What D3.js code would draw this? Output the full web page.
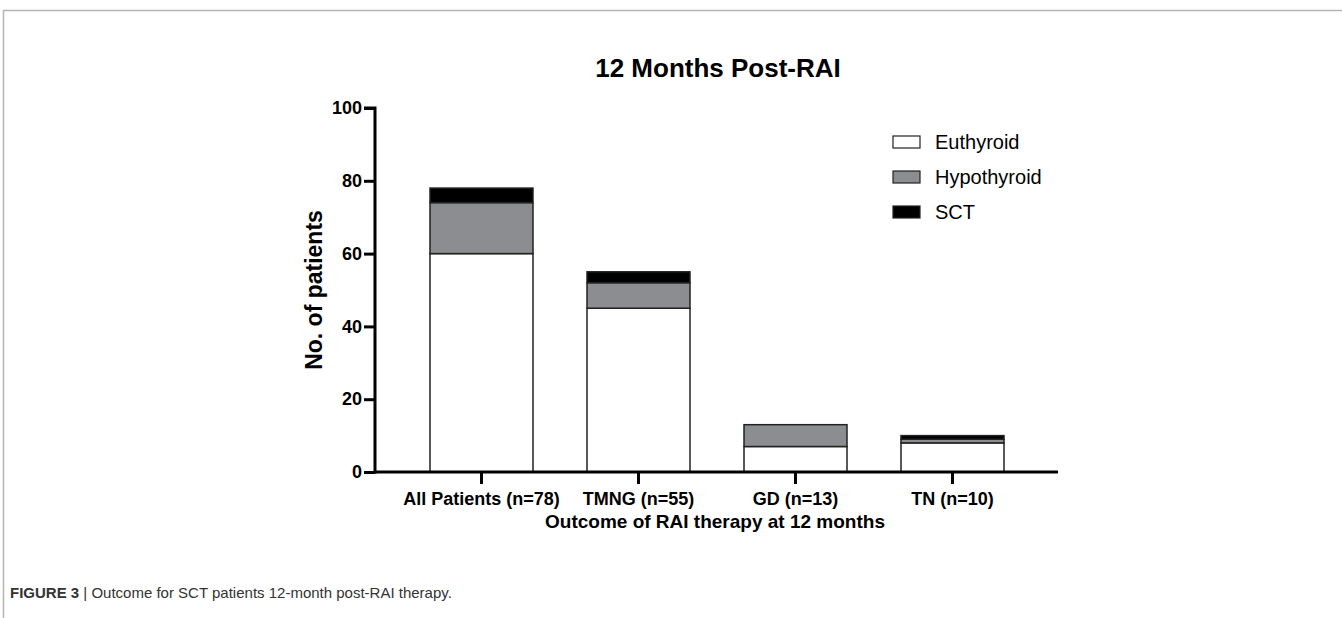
<!DOCTYPE html>
<html>
<head>
<meta charset="utf-8">
<script src="https://cdn.jsdelivr.net/npm/d3@7"></script>
<style>
  body { margin: 0; background: #fff; }
  svg { display: block; font-family: "Liberation Sans", Arial, sans-serif; }
</style>
</head>
<body>
<div id="chart"></div>
<script>
  var categories  = ['All Patients (n=78)', 'TMNG (n=55)', 'GD (n=13)', 'TN (n=10)'];
  var euthyroid   = [60, 45, 7, 8];
  var hypothyroid = [14, 7, 6, 1];
  var sct         = [4, 3, 0, 1];
  var seriesNames = ['Euthyroid', 'Hypothyroid', 'SCT'];
  var yTicks      = [0, 20, 40, 60, 80, 100];

  var width = 1342, height = 618;
  var colors = { Euthyroid: '#ffffff', Hypothyroid: '#8c8d90', SCT: '#000000' };

  var rows = categories.map(function(c, i){
    return { cat: c, Euthyroid: euthyroid[i], Hypothyroid: hypothyroid[i], SCT: sct[i] };
  });

  var svg = d3.select('#chart').append('svg')
              .attr('width', width)
              .attr('height', height);

  // page frame
  svg.append('path')
     .attr('d', 'M3.5,' + height + 'V10.5H' + width)
     .attr('fill', 'none')
     .attr('stroke', '#b5b5b5')
     .attr('stroke-width', 1.5);

  var x = d3.scaleBand()
            .domain(categories)
            .range([403, 1031])
            .paddingInner(0.344)
            .paddingOuter(0.172);

  var y = d3.scaleLinear()
            .domain([0, 100])
            .range([472, 108]);

  var stack = d3.stack().keys(seriesNames)(rows);

  svg.append('g').selectAll('g')
     .data(stack)
     .enter()
     .append('g')
     .attr('fill', d => colors[d.key])
     .selectAll('rect')
     .data(d => d.filter(p => p[1] > p[0]))
     .enter()
     .append('rect')
     .attr('x', d => x(d.data.cat))
     .attr('y', d => y(d[1]))
     .attr('width', x.bandwidth())
     .attr('height', d => y(d[0]) - y(d[1]))
     .attr('stroke', '#222')
     .attr('stroke-width', 1.5);

  // y axis
  var yAxis = svg.append('g')
                 .attr('transform', 'translate(375,0)')
                 .call(d3.axisLeft(y).tickValues(yTicks).tickSize(11).tickPadding(2));
  // x axis
  var xAxis = svg.append('g')
                 .attr('transform', 'translate(0,' + y(0) + ')')
                 .call(d3.axisBottom(x).tickSize(12).tickPadding(8));

  [yAxis, xAxis].forEach(function(a){
    a.select('.domain').attr('stroke', '#000').attr('stroke-width', 3);
    a.selectAll('.tick line').attr('stroke', '#000').attr('stroke-width', 3);
    a.selectAll('.tick text')
     .attr('fill', '#000')
     .style('font-size', '18px')
     .style('font-weight', 'bold');
  });
  xAxis.select('.domain').attr('d', 'M375,0H1058');
  yAxis.select('.domain').attr('d', 'M-11,' + y(100) + 'H0V' + (y(0) + 1.5));

  // title
  svg.append('text')
     .attr('x', 718).attr('y', 77)
     .attr('text-anchor', 'middle')
     .style('font-size', '26px')
     .style('font-weight', 'bold')
     .text('12 Months Post-RAI');

  // axis titles
  svg.append('text')
     .attr('transform', 'translate(322,290) rotate(-90)')
     .attr('text-anchor', 'middle')
     .style('font-size', '23px')
     .style('font-weight', 'bold')
     .text('No. of patients');

  svg.append('text')
     .attr('x', 715).attr('y', 528)
     .attr('text-anchor', 'middle')
     .style('font-size', '19px')
     .style('font-weight', 'bold')
     .text('Outcome of RAI therapy at 12 months');

  // legend
  var legend = svg.append('g').selectAll('g')
                  .data(seriesNames)
                  .enter()
                  .append('g')
                  .attr('transform', (d, i) => 'translate(893,' + (136 + i * 35) + ')');
  legend.append('rect')
        .attr('width', 27).attr('height', 12)
        .attr('fill', d => colors[d])
        .attr('stroke', '#222')
        .attr('stroke-width', 1.2);
  legend.append('text')
        .attr('x', 42).attr('y', 13)
        .style('font-size', '20px')
        .text(d => d);

  // caption
  var cap = svg.append('text')
               .attr('x', 10).attr('y', 598)
               .attr('fill', '#333')
               .style('font-size', '15px');
  cap.append('tspan').style('font-weight', 'bold').text('FIGURE 3');
  cap.append('tspan').text(' | Outcome for SCT patients 12-month post-RAI therapy.');
</script>
</body>
</html>
